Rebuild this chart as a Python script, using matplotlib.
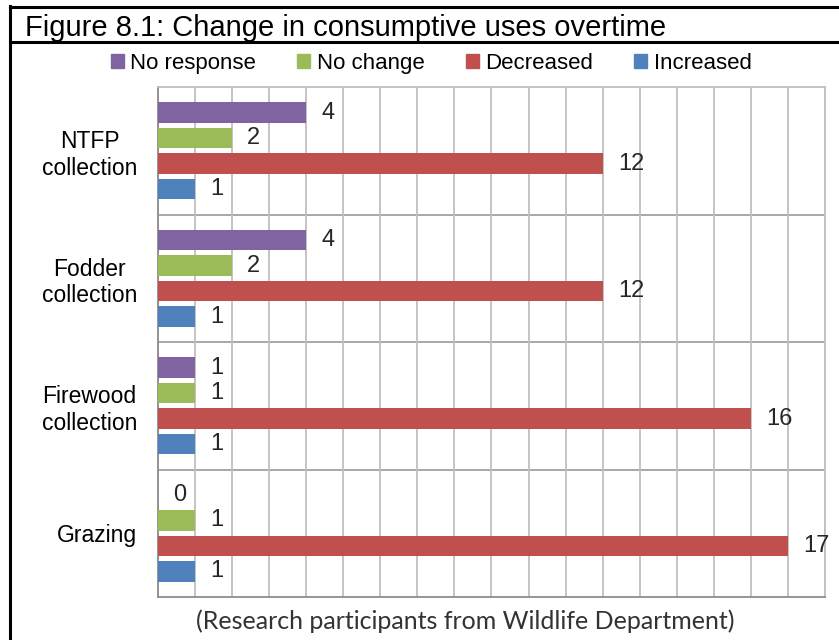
import numpy as np
import matplotlib.pyplot as plt
from matplotlib.lines import Line2D
from matplotlib.patches import Patch

categories = ['NTFP\ncollection', 'Fodder\ncollection', 'Firewood\ncollection', 'Grazing']
series = ['No response', 'No change', 'Decreased', 'Increased']
no_response = [4, 4, 1, 0]
no_change = [2, 2, 1, 1]
decreased = [12, 12, 16, 17]
increased = [1, 1, 1, 1]
colors = ['#8064A2', '#9BBB59', '#C0504D', '#4F81BD']

plt.rcParams['font.family'] = ['Liberation Sans', 'DejaVu Sans']

fig = plt.figure(figsize=(8.39, 6.4), dpi=100)
ax = fig.add_axes([0.1883, 0.0672, 0.7950, 0.7968])

y = np.arange(len(categories))
offsets = [-0.3, -0.1, 0.1, 0.3]
for vals, off, c in zip([no_response, no_change, decreased, increased], offsets, colors):
    ax.barh(y + off, vals, height=0.16, color=c, zorder=3)
    for yi, v in zip(y, vals):
        ax.annotate(str(v), (v, yi + off), xytext=(11, 0), textcoords='offset points',
                    va='center', ha='left', fontsize=17, color='#262626')

ax.set_xlim(0, 18)
ax.set_ylim(3.5, -0.5)
ax.set_xticks(np.arange(0, 19))
ax.tick_params(axis='x', length=0, labelbottom=False)
ax.grid(axis='x', color='#BFBFBF', lw=1.3, zorder=0)
for b in [0.5, 1.5, 2.5]:
    ax.axhline(b, color='#999999', lw=1.2, zorder=1)
ax.set_yticks(y)
ax.set_yticklabels(categories, fontsize=16.5, multialignment='center')
ax.tick_params(axis='y', length=0, pad=15)
for s in ['left', 'bottom']:
    ax.spines[s].set_color('#8C8C8C')
    ax.spines[s].set_linewidth(1.3)
for s in ['top', 'right']:
    ax.spines[s].set_color('#BFBFBF')
    ax.spines[s].set_linewidth(1.3)

fig.text(465 / 839, 1 - 629 / 640, '(Research participants from Wildlife Department)',
         fontsize=18, family=['Lato', 'DejaVu Sans'], color='#333333',
         ha='center', va='baseline')

handles = [Patch(color=c) for c in colors]
fig.legend(handles, series, loc='center', bbox_to_anchor=(0.514, 0.901), ncol=4,
           frameon=False, fontsize=16, handlelength=0.58, handleheight=0.55,
           handletextpad=0.3, columnspacing=1.85)

# title box and left border
fig.add_artist(Line2D([0.012, 1.0], [0.989, 0.989], color='black', lw=2.2))
fig.add_artist(Line2D([0.012, 1.0], [0.935, 0.935], color='black', lw=2.2))
fig.add_artist(Line2D([0.012, 0.012], [0.99, 0.0], color='black', lw=2.2))
fig.text(0.030, 1 - 36 / 640, 'Figure 8.1: Change in consumptive uses overtime', fontsize=21,
         va='baseline', ha='left')

fig.savefig('out.png', dpi=100)
